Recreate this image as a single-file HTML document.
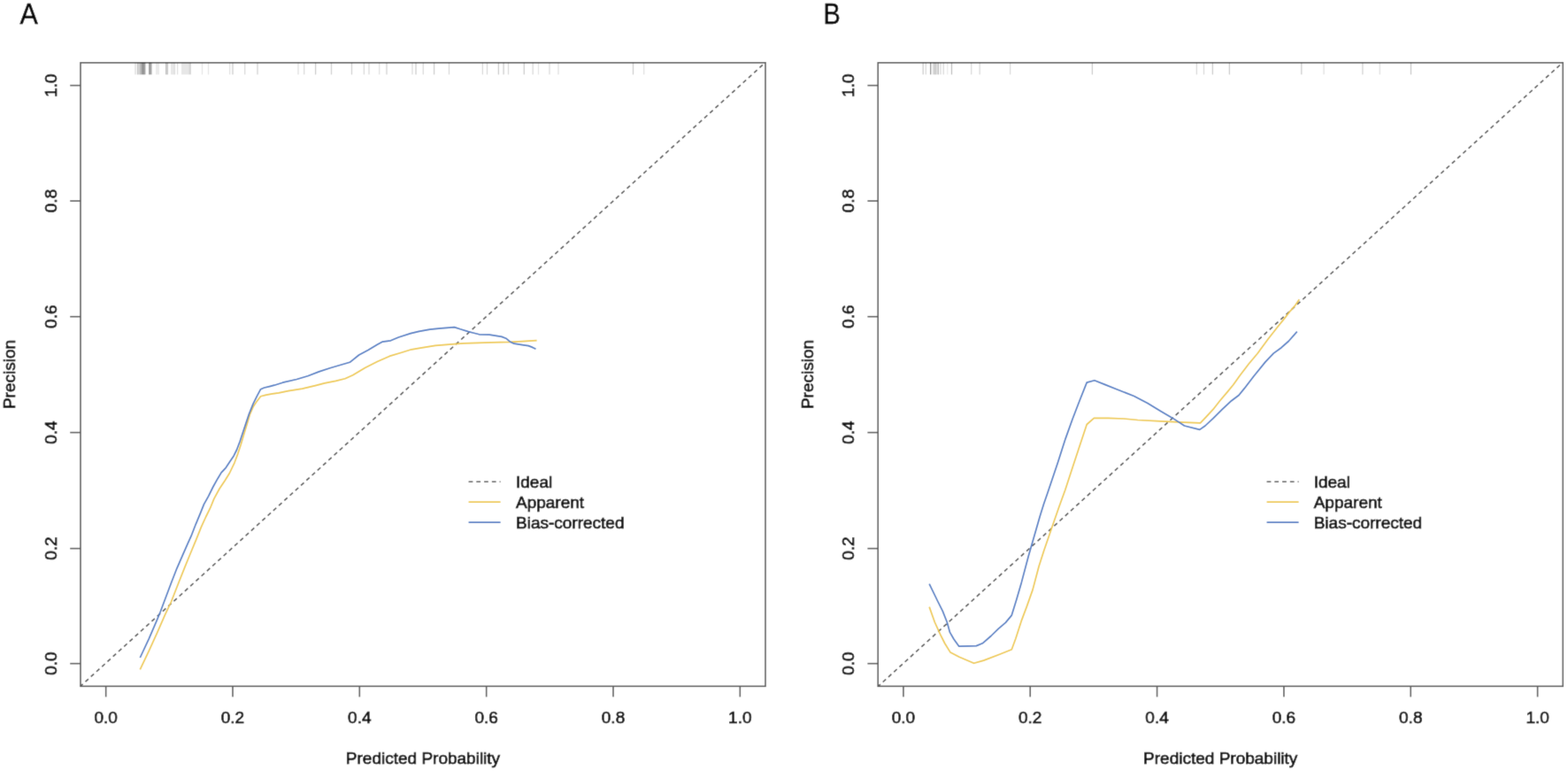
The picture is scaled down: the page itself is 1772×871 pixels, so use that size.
<!DOCTYPE html>
<html><head><meta charset="utf-8"><title>Calibration curves</title>
<style>
html,body{margin:0;padding:0;background:#fff;}
body{width:1772px;height:871px;overflow:hidden;}
svg{display:block;}
.t{font-family:'Liberation Sans', Arial, Helvetica, sans-serif;font-size:19px;fill:#111;stroke:#111;stroke-width:0.7px;}
.big{font-family:'Liberation Sans', Arial, Helvetica, sans-serif;font-size:33.5px;fill:#000;stroke:#000;stroke-width:0.5px;}
</style></head><body>
<svg width="1772" height="871" viewBox="0 0 1772 871">
<defs><filter id="bl" x="0" y="0" width="1772" height="871" filterUnits="userSpaceOnUse"><feConvolveMatrix order="3" kernelMatrix="0.0100 0.0800 0.0100 0.0800 0.6400 0.0800 0.0100 0.0800 0.0100" edgeMode="duplicate" preserveAlpha="true"/></filter></defs>
<rect width="1772" height="871" fill="#fff"/>
<g filter="url(#bl)">
<rect width="1772" height="871" fill="#fff"/>
<rect x="90.99" y="70.85" width="774.00" height="704.45" fill="none" stroke="#5a5a5a" stroke-width="1.6"/>
<line x1="119.66" y1="775.30" x2="119.66" y2="787.30" stroke="#5a5a5a" stroke-width="1.6"/>
<text x="119.66" y="817" text-anchor="middle" class="t">0.0</text>
<line x1="262.99" y1="775.30" x2="262.99" y2="787.30" stroke="#5a5a5a" stroke-width="1.6"/>
<text x="262.99" y="817" text-anchor="middle" class="t">0.2</text>
<line x1="406.33" y1="775.30" x2="406.33" y2="787.30" stroke="#5a5a5a" stroke-width="1.6"/>
<text x="406.33" y="817" text-anchor="middle" class="t">0.4</text>
<line x1="549.66" y1="775.30" x2="549.66" y2="787.30" stroke="#5a5a5a" stroke-width="1.6"/>
<text x="549.66" y="817" text-anchor="middle" class="t">0.6</text>
<line x1="693.00" y1="775.30" x2="693.00" y2="787.30" stroke="#5a5a5a" stroke-width="1.6"/>
<text x="693.00" y="817" text-anchor="middle" class="t">0.8</text>
<line x1="836.33" y1="775.30" x2="836.33" y2="787.30" stroke="#5a5a5a" stroke-width="1.6"/>
<text x="836.33" y="817" text-anchor="middle" class="t">1.0</text>
<line x1="90.99" y1="749.63" x2="79.19" y2="749.63" stroke="#5a5a5a" stroke-width="1.6"/>
<text transform="translate(63.79,749.63) rotate(-90)" text-anchor="middle" class="t">0.0</text>
<line x1="90.99" y1="619.63" x2="79.19" y2="619.63" stroke="#5a5a5a" stroke-width="1.6"/>
<text transform="translate(63.79,619.63) rotate(-90)" text-anchor="middle" class="t">0.2</text>
<line x1="90.99" y1="488.60" x2="79.19" y2="488.60" stroke="#5a5a5a" stroke-width="1.6"/>
<text transform="translate(63.79,488.60) rotate(-90)" text-anchor="middle" class="t">0.4</text>
<line x1="90.99" y1="357.70" x2="79.19" y2="357.70" stroke="#5a5a5a" stroke-width="1.6"/>
<text transform="translate(63.79,357.70) rotate(-90)" text-anchor="middle" class="t">0.6</text>
<line x1="90.99" y1="227.00" x2="79.19" y2="227.00" stroke="#5a5a5a" stroke-width="1.6"/>
<text transform="translate(63.79,227.00) rotate(-90)" text-anchor="middle" class="t">0.8</text>
<line x1="90.99" y1="96.54" x2="79.19" y2="96.54" stroke="#5a5a5a" stroke-width="1.6"/>
<text transform="translate(63.79,96.54) rotate(-90)" text-anchor="middle" class="t">1.0</text>
<text x="478.00" y="863" text-anchor="middle" class="t">Predicted Probability</text>
<text transform="translate(17.49,423.04) rotate(-90)" text-anchor="middle" class="t">Precision</text>
<line x1="90.99" y1="775.15" x2="865.00" y2="70.50" stroke="#555" stroke-width="1.6" stroke-dasharray="4.6 3.846" stroke-dashoffset="1.0"/>
<line x1="153.0" y1="70.8" x2="153.0" y2="84.3" stroke="#000" stroke-opacity="0.15" stroke-width="1.3"/>
<line x1="155.5" y1="70.8" x2="155.5" y2="84.3" stroke="#000" stroke-opacity="0.22" stroke-width="1.3"/>
<line x1="157.0" y1="70.8" x2="157.0" y2="84.3" stroke="#000" stroke-opacity="0.22" stroke-width="1.3"/>
<line x1="158.5" y1="70.8" x2="158.5" y2="84.3" stroke="#000" stroke-opacity="0.25" stroke-width="1.3"/>
<line x1="160.0" y1="70.8" x2="160.0" y2="84.3" stroke="#000" stroke-opacity="0.4" stroke-width="1.3"/>
<line x1="161.3" y1="70.8" x2="161.3" y2="84.3" stroke="#000" stroke-opacity="0.45" stroke-width="1.3"/>
<line x1="162.6" y1="70.8" x2="162.6" y2="84.3" stroke="#000" stroke-opacity="0.4" stroke-width="1.3"/>
<line x1="163.8" y1="70.8" x2="163.8" y2="84.3" stroke="#000" stroke-opacity="0.35" stroke-width="1.3"/>
<line x1="168.6" y1="70.8" x2="168.6" y2="84.3" stroke="#000" stroke-opacity="0.35" stroke-width="1.3"/>
<line x1="169.8" y1="70.8" x2="169.8" y2="84.3" stroke="#000" stroke-opacity="0.4" stroke-width="1.3"/>
<line x1="171.0" y1="70.8" x2="171.0" y2="84.3" stroke="#000" stroke-opacity="0.3" stroke-width="1.3"/>
<line x1="177.0" y1="70.8" x2="177.0" y2="84.3" stroke="#000" stroke-opacity="0.12" stroke-width="1.3"/>
<line x1="179.0" y1="70.8" x2="179.0" y2="84.3" stroke="#000" stroke-opacity="0.12" stroke-width="1.3"/>
<line x1="187.8" y1="70.8" x2="187.8" y2="84.3" stroke="#000" stroke-opacity="0.3" stroke-width="1.3"/>
<line x1="189.4" y1="70.8" x2="189.4" y2="84.3" stroke="#000" stroke-opacity="0.22" stroke-width="1.3"/>
<line x1="194.0" y1="70.8" x2="194.0" y2="84.3" stroke="#000" stroke-opacity="0.15" stroke-width="1.3"/>
<line x1="196.0" y1="70.8" x2="196.0" y2="84.3" stroke="#000" stroke-opacity="0.15" stroke-width="1.3"/>
<line x1="197.5" y1="70.8" x2="197.5" y2="84.3" stroke="#000" stroke-opacity="0.12" stroke-width="1.3"/>
<line x1="200.6" y1="70.8" x2="200.6" y2="84.3" stroke="#000" stroke-opacity="0.12" stroke-width="1.3"/>
<line x1="206.0" y1="70.8" x2="206.0" y2="84.3" stroke="#000" stroke-opacity="0.15" stroke-width="1.3"/>
<line x1="208.0" y1="70.8" x2="208.0" y2="84.3" stroke="#000" stroke-opacity="0.15" stroke-width="1.3"/>
<line x1="210.0" y1="70.8" x2="210.0" y2="84.3" stroke="#000" stroke-opacity="0.15" stroke-width="1.3"/>
<line x1="212.0" y1="70.8" x2="212.0" y2="84.3" stroke="#000" stroke-opacity="0.15" stroke-width="1.3"/>
<line x1="214.0" y1="70.8" x2="214.0" y2="84.3" stroke="#000" stroke-opacity="0.18" stroke-width="1.3"/>
<line x1="215.3" y1="70.8" x2="215.3" y2="84.3" stroke="#000" stroke-opacity="0.15" stroke-width="1.3"/>
<line x1="228.5" y1="70.8" x2="228.5" y2="84.3" stroke="#000" stroke-opacity="0.1" stroke-width="1.3"/>
<line x1="235.5" y1="70.8" x2="235.5" y2="84.3" stroke="#000" stroke-opacity="0.1" stroke-width="1.3"/>
<line x1="259.7" y1="70.8" x2="259.7" y2="84.3" stroke="#000" stroke-opacity="0.12" stroke-width="1.3"/>
<line x1="263.0" y1="70.8" x2="263.0" y2="84.3" stroke="#000" stroke-opacity="0.2" stroke-width="1.3"/>
<line x1="276.7" y1="70.8" x2="276.7" y2="84.3" stroke="#000" stroke-opacity="0.15" stroke-width="1.3"/>
<line x1="291.0" y1="70.8" x2="291.0" y2="84.3" stroke="#000" stroke-opacity="0.18" stroke-width="1.3"/>
<line x1="337.0" y1="70.8" x2="337.0" y2="84.3" stroke="#000" stroke-opacity="0.12" stroke-width="1.3"/>
<line x1="343.7" y1="70.8" x2="343.7" y2="84.3" stroke="#000" stroke-opacity="0.15" stroke-width="1.3"/>
<line x1="356.6" y1="70.8" x2="356.6" y2="84.3" stroke="#000" stroke-opacity="0.2" stroke-width="1.3"/>
<line x1="374.5" y1="70.8" x2="374.5" y2="84.3" stroke="#000" stroke-opacity="0.18" stroke-width="1.3"/>
<line x1="397.5" y1="70.8" x2="397.5" y2="84.3" stroke="#000" stroke-opacity="0.18" stroke-width="1.3"/>
<line x1="411.4" y1="70.8" x2="411.4" y2="84.3" stroke="#000" stroke-opacity="0.15" stroke-width="1.3"/>
<line x1="417.0" y1="70.8" x2="417.0" y2="84.3" stroke="#000" stroke-opacity="0.15" stroke-width="1.3"/>
<line x1="428.7" y1="70.8" x2="428.7" y2="84.3" stroke="#000" stroke-opacity="0.12" stroke-width="1.3"/>
<line x1="437.0" y1="70.8" x2="437.0" y2="84.3" stroke="#000" stroke-opacity="0.18" stroke-width="1.3"/>
<line x1="466.0" y1="70.8" x2="466.0" y2="84.3" stroke="#000" stroke-opacity="0.15" stroke-width="1.3"/>
<line x1="470.0" y1="70.8" x2="470.0" y2="84.3" stroke="#000" stroke-opacity="0.2" stroke-width="1.3"/>
<line x1="478.3" y1="70.8" x2="478.3" y2="84.3" stroke="#000" stroke-opacity="0.15" stroke-width="1.3"/>
<line x1="490.6" y1="70.8" x2="490.6" y2="84.3" stroke="#000" stroke-opacity="0.2" stroke-width="1.3"/>
<line x1="507.5" y1="70.8" x2="507.5" y2="84.3" stroke="#000" stroke-opacity="0.15" stroke-width="1.3"/>
<line x1="545.4" y1="70.8" x2="545.4" y2="84.3" stroke="#000" stroke-opacity="0.15" stroke-width="1.3"/>
<line x1="550.5" y1="70.8" x2="550.5" y2="84.3" stroke="#000" stroke-opacity="0.15" stroke-width="1.3"/>
<line x1="563.4" y1="70.8" x2="563.4" y2="84.3" stroke="#000" stroke-opacity="0.2" stroke-width="1.3"/>
<line x1="569.1" y1="70.8" x2="569.1" y2="84.3" stroke="#000" stroke-opacity="0.2" stroke-width="1.3"/>
<line x1="574.5" y1="70.8" x2="574.5" y2="84.3" stroke="#000" stroke-opacity="0.15" stroke-width="1.3"/>
<line x1="592.3" y1="70.8" x2="592.3" y2="84.3" stroke="#000" stroke-opacity="0.2" stroke-width="1.3"/>
<line x1="602.2" y1="70.8" x2="602.2" y2="84.3" stroke="#000" stroke-opacity="0.15" stroke-width="1.3"/>
<line x1="608.5" y1="70.8" x2="608.5" y2="84.3" stroke="#000" stroke-opacity="0.1" stroke-width="1.3"/>
<line x1="621.0" y1="70.8" x2="621.0" y2="84.3" stroke="#000" stroke-opacity="0.15" stroke-width="1.3"/>
<line x1="631.0" y1="70.8" x2="631.0" y2="84.3" stroke="#000" stroke-opacity="0.12" stroke-width="1.3"/>
<line x1="715.5" y1="70.8" x2="715.5" y2="84.3" stroke="#000" stroke-opacity="0.2" stroke-width="1.3"/>
<line x1="727.7" y1="70.8" x2="727.7" y2="84.3" stroke="#000" stroke-opacity="0.12" stroke-width="1.3"/>
<polyline points="158.3,756.3 168.4,735.1 177.6,714.9 186.8,693.8 193.4,680.0 201.7,658.8 209.0,640.4 215.4,624.8 221.9,609.2 227.4,595.4 232.6,584.0 237.7,573.7 241.9,563.4 248.1,552.0 254.3,542.7 259.4,534.5 265.0,522.8 268.8,512.6 272.2,502.2 275.6,490.8 279.1,479.3 282.5,467.8 286.0,459.8 290.6,452.9 294.6,447.8 300.9,446.1 307.8,444.9 315.0,443.8 325.8,441.7 341.6,439.2 357.3,435.4 366.8,432.9 379.4,430.4 390.0,427.7 398.8,423.8 412.6,415.5 426.4,408.6 440.1,402.4 453.9,398.3 465.0,394.8 476.6,392.9 492.1,390.4 510.7,388.9 524.0,387.9 540.0,387.4 555.3,386.8 576.3,386.3 590.2,385.6 606.6,384.7" fill="none" stroke="#eec94c" stroke-width="1.7" stroke-linejoin="round"/>
<polyline points="158.3,743.0 168.4,721.4 176.7,702.1 181.3,691.0 185.4,680.0 193.4,658.8 199.8,642.3 206.2,627.6 212.7,612.9 216.0,605.7 221.2,592.3 226.4,579.9 230.5,569.6 235.7,560.3 240.8,550.0 246.0,540.7 250.1,533.9 255.3,528.3 259.6,521.7 264.2,514.9 267.6,508.0 271.1,498.8 274.5,488.5 277.9,478.2 281.4,467.8 286.0,456.4 290.6,447.2 294.6,439.7 298.6,438.0 305.5,436.3 310.0,435.2 319.5,432.2 335.3,428.5 347.9,424.7 360.5,419.9 373.1,415.8 385.0,412.3 395.3,409.3 405.7,401.0 416.0,395.5 426.4,389.3 431.9,386.2 441.5,384.8 450.5,381.0 464.1,376.6 473.5,374.3 485.9,372.1 498.3,370.9 513.5,369.6 520.0,371.8 529.3,374.6 534.6,376.0 541.6,377.8 553.1,378.1 567.0,380.4 571.7,382.2 576.3,385.9 580.9,388.2 590.2,389.6 597.1,390.6 601.8,392.4 605.5,394.3" fill="none" stroke="#4f7cc4" stroke-width="1.7" stroke-linejoin="round"/>
<line x1="529.6" y1="544.2" x2="565.6" y2="544.2" stroke="#555" stroke-width="1.6" stroke-dasharray="4.75 4.0"/>
<line x1="529.6" y1="567.2" x2="565.6" y2="567.2" stroke="#eec94c" stroke-width="1.7"/>
<line x1="529.6" y1="590.2" x2="565.6" y2="590.2" stroke="#4f7cc4" stroke-width="1.7"/>
<text x="583.0" y="550.8" class="t">Ideal</text>
<text x="583.0" y="573.9" class="t">Apparent</text>
<text x="583.0" y="597.0" class="t">Bias-corrected</text>
<text transform="translate(22.5,26.6) scale(0.91,1)" class="big">A</text>
<rect x="992.23" y="70.85" width="774.04" height="704.45" fill="none" stroke="#5a5a5a" stroke-width="1.6"/>
<line x1="1020.90" y1="775.30" x2="1020.90" y2="787.30" stroke="#5a5a5a" stroke-width="1.6"/>
<text x="1020.90" y="817" text-anchor="middle" class="t">0.0</text>
<line x1="1164.24" y1="775.30" x2="1164.24" y2="787.30" stroke="#5a5a5a" stroke-width="1.6"/>
<text x="1164.24" y="817" text-anchor="middle" class="t">0.2</text>
<line x1="1307.58" y1="775.30" x2="1307.58" y2="787.30" stroke="#5a5a5a" stroke-width="1.6"/>
<text x="1307.58" y="817" text-anchor="middle" class="t">0.4</text>
<line x1="1450.92" y1="775.30" x2="1450.92" y2="787.30" stroke="#5a5a5a" stroke-width="1.6"/>
<text x="1450.92" y="817" text-anchor="middle" class="t">0.6</text>
<line x1="1594.26" y1="775.30" x2="1594.26" y2="787.30" stroke="#5a5a5a" stroke-width="1.6"/>
<text x="1594.26" y="817" text-anchor="middle" class="t">0.8</text>
<line x1="1737.60" y1="775.30" x2="1737.60" y2="787.30" stroke="#5a5a5a" stroke-width="1.6"/>
<text x="1737.60" y="817" text-anchor="middle" class="t">1.0</text>
<line x1="992.23" y1="749.63" x2="980.43" y2="749.63" stroke="#5a5a5a" stroke-width="1.6"/>
<text transform="translate(965.03,749.63) rotate(-90)" text-anchor="middle" class="t">0.0</text>
<line x1="992.23" y1="619.63" x2="980.43" y2="619.63" stroke="#5a5a5a" stroke-width="1.6"/>
<text transform="translate(965.03,619.63) rotate(-90)" text-anchor="middle" class="t">0.2</text>
<line x1="992.23" y1="488.60" x2="980.43" y2="488.60" stroke="#5a5a5a" stroke-width="1.6"/>
<text transform="translate(965.03,488.60) rotate(-90)" text-anchor="middle" class="t">0.4</text>
<line x1="992.23" y1="357.70" x2="980.43" y2="357.70" stroke="#5a5a5a" stroke-width="1.6"/>
<text transform="translate(965.03,357.70) rotate(-90)" text-anchor="middle" class="t">0.6</text>
<line x1="992.23" y1="227.00" x2="980.43" y2="227.00" stroke="#5a5a5a" stroke-width="1.6"/>
<text transform="translate(965.03,227.00) rotate(-90)" text-anchor="middle" class="t">0.8</text>
<line x1="992.23" y1="96.54" x2="980.43" y2="96.54" stroke="#5a5a5a" stroke-width="1.6"/>
<text transform="translate(965.03,96.54) rotate(-90)" text-anchor="middle" class="t">1.0</text>
<text x="1379.25" y="863" text-anchor="middle" class="t">Predicted Probability</text>
<text transform="translate(918.73,423.04) rotate(-90)" text-anchor="middle" class="t">Precision</text>
<line x1="992.23" y1="775.50" x2="1766.27" y2="70.40" stroke="#555" stroke-width="1.6" stroke-dasharray="4.6 3.846" stroke-dashoffset="1.0"/>
<line x1="1043.2" y1="70.8" x2="1043.2" y2="84.3" stroke="#000" stroke-opacity="0.2" stroke-width="1.3"/>
<line x1="1046.3" y1="70.8" x2="1046.3" y2="84.3" stroke="#000" stroke-opacity="0.15" stroke-width="1.3"/>
<line x1="1051.7" y1="70.8" x2="1051.7" y2="84.3" stroke="#000" stroke-opacity="0.42" stroke-width="1.3"/>
<line x1="1055.0" y1="70.8" x2="1055.0" y2="84.3" stroke="#000" stroke-opacity="0.22" stroke-width="1.3"/>
<line x1="1056.6" y1="70.8" x2="1056.6" y2="84.3" stroke="#000" stroke-opacity="0.22" stroke-width="1.3"/>
<line x1="1058.0" y1="70.8" x2="1058.0" y2="84.3" stroke="#000" stroke-opacity="0.2" stroke-width="1.3"/>
<line x1="1060.2" y1="70.8" x2="1060.2" y2="84.3" stroke="#000" stroke-opacity="0.3" stroke-width="1.3"/>
<line x1="1062.9" y1="70.8" x2="1062.9" y2="84.3" stroke="#000" stroke-opacity="0.15" stroke-width="1.3"/>
<line x1="1066.3" y1="70.8" x2="1066.3" y2="84.3" stroke="#000" stroke-opacity="0.15" stroke-width="1.3"/>
<line x1="1070.7" y1="70.8" x2="1070.7" y2="84.3" stroke="#000" stroke-opacity="0.08" stroke-width="1.3"/>
<line x1="1075.5" y1="70.8" x2="1075.5" y2="84.3" stroke="#000" stroke-opacity="0.25" stroke-width="1.3"/>
<line x1="1097.7" y1="70.8" x2="1097.7" y2="84.3" stroke="#000" stroke-opacity="0.15" stroke-width="1.3"/>
<line x1="1107.2" y1="70.8" x2="1107.2" y2="84.3" stroke="#000" stroke-opacity="0.15" stroke-width="1.3"/>
<line x1="1141.6" y1="70.8" x2="1141.6" y2="84.3" stroke="#000" stroke-opacity="0.15" stroke-width="1.3"/>
<line x1="1234.4" y1="70.8" x2="1234.4" y2="84.3" stroke="#000" stroke-opacity="0.2" stroke-width="1.3"/>
<line x1="1352.4" y1="70.8" x2="1352.4" y2="84.3" stroke="#000" stroke-opacity="0.15" stroke-width="1.3"/>
<line x1="1360.5" y1="70.8" x2="1360.5" y2="84.3" stroke="#000" stroke-opacity="0.15" stroke-width="1.3"/>
<line x1="1370.4" y1="70.8" x2="1370.4" y2="84.3" stroke="#000" stroke-opacity="0.2" stroke-width="1.3"/>
<line x1="1389.4" y1="70.8" x2="1389.4" y2="84.3" stroke="#000" stroke-opacity="0.2" stroke-width="1.3"/>
<line x1="1470.8" y1="70.8" x2="1470.8" y2="84.3" stroke="#000" stroke-opacity="0.2" stroke-width="1.3"/>
<line x1="1496.1" y1="70.8" x2="1496.1" y2="84.3" stroke="#000" stroke-opacity="0.12" stroke-width="1.3"/>
<line x1="1539.9" y1="70.8" x2="1539.9" y2="84.3" stroke="#000" stroke-opacity="0.18" stroke-width="1.3"/>
<line x1="1559.3" y1="70.8" x2="1559.3" y2="84.3" stroke="#000" stroke-opacity="0.12" stroke-width="1.3"/>
<line x1="1594.5" y1="70.8" x2="1594.5" y2="84.3" stroke="#000" stroke-opacity="0.22" stroke-width="1.3"/>
<polyline points="1050.2,685.6 1056.4,703.0 1062.7,716.9 1067.8,727.0 1074.1,737.1 1084.2,742.2 1100.6,749.3 1111.6,746.1 1129.6,739.2 1143.3,733.7 1147.9,721.2 1154.1,701.9 1160.3,685.4 1167.1,666.1 1174.0,640.0 1179.6,622.6 1188.2,597.5 1196.8,572.7 1203.7,553.8 1212.2,527.7 1220.2,503.6 1228.2,479.5 1236.3,472.3 1252.3,472.3 1270.0,473.0 1285.8,474.5 1311.7,475.8 1337.5,477.1 1356.5,477.8 1362.7,471.3 1371.0,462.4 1378.6,452.7 1386.8,443.1 1393.7,434.8 1401.0,424.4 1411.3,411.0 1421.0,399.5 1433.1,383.1 1443.7,369.5 1451.5,359.9 1458.4,351.1 1463.9,344.7 1468.3,338.3" fill="none" stroke="#eec94c" stroke-width="1.7" stroke-linejoin="round"/>
<polyline points="1050.2,659.7 1059.6,679.0 1065.3,690.4 1070.3,703.0 1073.5,714.4 1077.9,722.0 1083.8,730.2 1095.1,729.8 1103.4,729.6 1110.3,726.8 1119.9,718.5 1128.2,710.3 1136.4,703.4 1143.3,695.1 1148.8,677.2 1154.4,657.9 1162.4,627.8 1168.4,607.1 1175.3,583.0 1179.6,569.3 1183.5,558.0 1195.3,522.9 1204.1,495.6 1212.2,473.0 1220.2,452.2 1228.2,432.1 1236.9,429.7 1249.1,434.6 1261.3,439.5 1281.6,447.5 1296.9,455.6 1312.1,464.8 1325.3,472.4 1338.5,481.0 1355.8,485.4 1362.0,481.0 1371.0,472.7 1381.3,462.4 1391.7,452.7 1400.0,446.5 1406.2,438.9 1416.5,425.5 1430.0,408.9 1439.3,399.1 1448.1,392.7 1456.2,385.5 1465.8,374.6" fill="none" stroke="#4f7cc4" stroke-width="1.7" stroke-linejoin="round"/>
<line x1="1431.6" y1="544.2" x2="1467.6" y2="544.2" stroke="#555" stroke-width="1.6" stroke-dasharray="4.75 4.0"/>
<line x1="1431.6" y1="567.2" x2="1467.6" y2="567.2" stroke="#eec94c" stroke-width="1.7"/>
<line x1="1431.6" y1="590.2" x2="1467.6" y2="590.2" stroke="#4f7cc4" stroke-width="1.7"/>
<text x="1484.7" y="550.8" class="t">Ideal</text>
<text x="1484.7" y="573.9" class="t">Apparent</text>
<text x="1484.7" y="597.0" class="t">Bias-corrected</text>
<text transform="translate(930.6,26.6) scale(0.86,1)" class="big">B</text>
</g>
</svg>
</body></html>
